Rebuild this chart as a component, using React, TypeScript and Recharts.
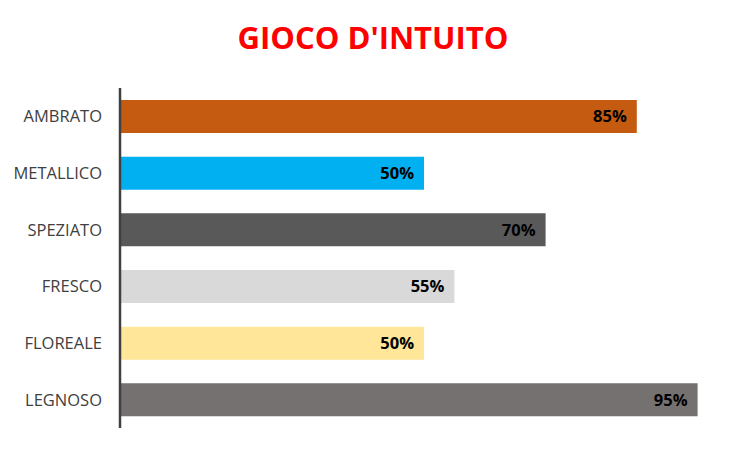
import React from 'react';
import { BarChart, Bar, XAxis, YAxis, Cell, LabelList } from 'recharts';

const categories = ['AMBRATO', 'METALLICO', 'SPEZIATO', 'FRESCO', 'FLOREALE', 'LEGNOSO'];
const values = [85, 50, 70, 55, 50, 95];
const colors = ['#C55A11', '#00B0F0', '#595959', '#D9D9D9', '#FFE699', '#767171'];

const data = categories.map((name, i) => ({ name, value: values[i] }));

const font = '"Open Sans", sans-serif';

export default function App() {
  return (
    <div style={{ position: 'absolute', left: 0, top: 0, width: 752, height: 452, background: '#fff' }}>
      <div
        style={{
          position: 'absolute',
          top: 17,
          left: -3,
          width: 752,
          textAlign: 'center',
          color: '#FF0000',
          fontFamily: font,
          fontWeight: 'bold',
          fontSize: 31,
          lineHeight: '40px',
        }}
      >
        GIOCO D'INTUITO
      </div>
      <BarChart
        width={752}
        height={452}
        data={data}
        layout="vertical"
        margin={{ top: 88, right: 24, bottom: 24, left: 0 }}
      >
        <XAxis type="number" domain={[0, 100]} hide />
        <YAxis
          type="category"
          dataKey="name"
          width={120}
          tickLine={false}
          tickMargin={12}
          axisLine={{ stroke: '#404040', strokeWidth: 2.5 }}
          tick={{ fill: '#404040', fontSize: 16.5, fontFamily: font }}
        />
        <Bar dataKey="value" barSize={33} isAnimationActive={false}>
          {data.map((d, i) => (
            <Cell key={d.name} fill={colors[i]} />
          ))}
          <LabelList
            dataKey="value"
            position="insideRight"
            offset={10}
            formatter={(v: number) => `${v}%`}
            style={{ fill: '#000', fontWeight: 'bold', fontSize: 16.5, fontFamily: font }}
          />
        </Bar>
      </BarChart>
    </div>
  );
}
